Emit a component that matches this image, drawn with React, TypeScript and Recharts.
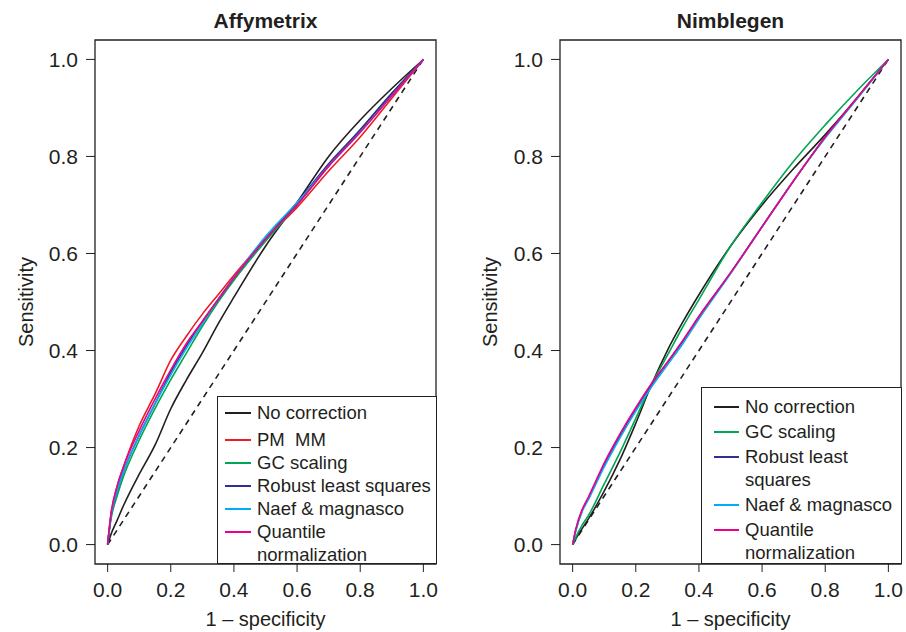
import React from 'react';
import { LineChart, Line, XAxis, YAxis, ReferenceArea, Label } from 'recharts';

// 1 - specificity grid shared by all curves
const fpr = [0, 0.01, 0.03, 0.05, 0.1, 0.15, 0.2, 0.25, 0.3, 0.35, 0.4, 0.5, 0.6, 0.7, 0.8, 0.9, 1];
const axisTicks = [0, 0.2, 0.4, 0.6, 0.8, 1];

// Affymetrix sensitivities
const affyNoCorrection = [0, 0.02, 0.05, 0.08, 0.145, 0.205, 0.28, 0.34, 0.395, 0.455, 0.51, 0.615, 0.705, 0.8, 0.875, 0.94, 1];
const affyPmMm = [0, 0.06, 0.12, 0.16, 0.245, 0.31, 0.38, 0.43, 0.475, 0.515, 0.555, 0.63, 0.695, 0.77, 0.84, 0.92, 1];
const affyGc = [0, 0.05, 0.1, 0.14, 0.215, 0.28, 0.34, 0.395, 0.45, 0.5, 0.545, 0.625, 0.7, 0.78, 0.855, 0.93, 1];
const affyRls = [0, 0.055, 0.11, 0.15, 0.225, 0.29, 0.355, 0.41, 0.46, 0.505, 0.55, 0.63, 0.705, 0.785, 0.855, 0.93, 1];
const affyNaef = [0, 0.055, 0.11, 0.15, 0.225, 0.29, 0.35, 0.405, 0.455, 0.505, 0.55, 0.635, 0.705, 0.78, 0.85, 0.925, 1];
const affyQuantile = [0, 0.06, 0.12, 0.16, 0.235, 0.3, 0.36, 0.415, 0.46, 0.505, 0.55, 0.63, 0.7, 0.78, 0.85, 0.925, 1];

// Nimblegen sensitivities
const nimbNoCorrection = [0, 0.012, 0.033, 0.053, 0.11, 0.175, 0.25, 0.33, 0.4, 0.46, 0.515, 0.615, 0.7, 0.775, 0.845, 0.92, 1];
const nimbGc = [0, 0.015, 0.04, 0.06, 0.125, 0.19, 0.26, 0.33, 0.39, 0.45, 0.505, 0.615, 0.705, 0.79, 0.865, 0.935, 1];
const nimbRls = [0, 0.03, 0.07, 0.095, 0.165, 0.225, 0.28, 0.33, 0.375, 0.42, 0.47, 0.56, 0.655, 0.75, 0.84, 0.92, 1];
const nimbNaef = [0, 0.028, 0.068, 0.093, 0.16, 0.22, 0.275, 0.325, 0.37, 0.415, 0.465, 0.558, 0.655, 0.75, 0.838, 0.918, 1];
const nimbQuantile = [0, 0.032, 0.072, 0.098, 0.168, 0.228, 0.282, 0.332, 0.376, 0.422, 0.47, 0.56, 0.655, 0.75, 0.84, 0.92, 1];

const diagonal = [{ x: 0, y: 0 }, { x: 1, y: 1 }];

const INK = '#231f20';
const FONT = '"Liberation Sans", Arial, Helvetica, sans-serif';

interface Series {
  key: string;
  name: string;
  color: string;
  values: number[];
}

const affySeries: Series[] = [
  { key: 'none', name: 'No correction', color: INK, values: affyNoCorrection },
  { key: 'pmmm', name: 'PM  MM', color: '#ed1c24', values: affyPmMm },
  { key: 'gc', name: 'GC scaling', color: '#00a651', values: affyGc },
  { key: 'rls', name: 'Robust least squares', color: '#2e3192', values: affyRls },
  { key: 'naef', name: 'Naef & magnasco', color: '#00aeef', values: affyNaef },
  { key: 'quant', name: 'Quantile normalization', color: '#ec008c', values: affyQuantile },
];

const nimbSeries: Series[] = [
  { key: 'none', name: 'No correction', color: INK, values: nimbNoCorrection },
  { key: 'gc', name: 'GC scaling', color: '#00a651', values: nimbGc },
  { key: 'rls', name: 'Robust least squares', color: '#2e3192', values: nimbRls },
  { key: 'naef', name: 'Naef & magnasco', color: '#00aeef', values: nimbNaef },
  { key: 'quant', name: 'Quantile normalization', color: '#ec008c', values: nimbQuantile },
];

const buildRows = (series: Series[]) =>
  fpr.map((x, i) => {
    const row: any = { x };
    series.forEach((s) => (row[s.key] = s.values[i]));
    return row;
  });

interface LegendBox {
  left: number;
  top: number;
  width: number;
  height: number;
  padTop: number;
  lineLeft: number;
  textLeft: number;
  gap: number;
  extra?: Record<string, number>;
}

interface PanelProps {
  title: string;
  series: Series[];
  left: number;
  yAxisWidth: number;
  rightMargin: number;
  ylabelOffset: number;
  legend: LegendBox;
}

const Panel: React.FC<PanelProps> = ({ title, series, left, yAxisWidth, rightMargin, ylabelOffset, legend }) => {
  const rows = buildRows(series);
  const width = 453;
  const height = 632;
  const plotW = width - yAxisWidth - rightMargin;
  return (
    <div style={{ position: 'absolute', left, top: 0, width, height }}>
      <LineChart width={width} height={height} data={rows} margin={{ top: 40, right: rightMargin, bottom: 0, left: 0 }}>
        <XAxis
          type="number"
          dataKey="x"
          domain={[-0.04, 1.04]}
          ticks={axisTicks}
          interval={0}
          tickFormatter={(v: number) => v.toFixed(1)}
          axisLine={false}
          tickLine={{ stroke: INK }}
          tickSize={8}
          tickMargin={10}
          height={68}
          tick={{ fontSize: 21, fill: INK, fontFamily: FONT }}
        >
          <Label value="1 – specificity" position="insideBottom" offset={6} fontSize={20} fill={INK} fontFamily={FONT} />
        </XAxis>
        <YAxis
          type="number"
          domain={[-0.04, 1.04]}
          ticks={axisTicks}
          interval={0}
          tickFormatter={(v: number) => v.toFixed(1)}
          axisLine={false}
          tickLine={{ stroke: INK }}
          tickSize={9}
          tickMargin={8}
          width={yAxisWidth}
          tick={{ fontSize: 21, fill: INK, fontFamily: FONT }}
        >
          <Label
            value="Sensitivity"
            angle={-90}
            position="insideLeft"
            offset={ylabelOffset}
            fontSize={20}
            fill={INK}
            fontFamily={FONT}
            style={{ textAnchor: 'middle' }}
          />
        </YAxis>
        <ReferenceArea x1={-0.04} x2={1.04} y1={-0.04} y2={1.04} fill="none" stroke={INK} strokeWidth={1.3} />
        <Line
          data={diagonal}
          dataKey="y"
          stroke={INK}
          strokeWidth={1.6}
          strokeDasharray="6 5"
          dot={false}
          isAnimationActive={false}
        />
        {series.map((s) => (
          <Line
            key={s.key}
            type="monotone"
            dataKey={s.key}
            stroke={s.color}
            strokeWidth={1.6}
            dot={false}
            isAnimationActive={false}
          />
        ))}
      </LineChart>
      <div
        style={{
          position: 'absolute',
          left: yAxisWidth,
          width: plotW,
          top: 10,
          textAlign: 'center',
          fontFamily: FONT,
          fontWeight: 'bold',
          fontSize: 21,
          lineHeight: '21px',
          color: INK,
        }}
      >
        {title}
      </div>
      <div
        style={{
          position: 'absolute',
          left: legend.left - left,
          top: legend.top,
          width: legend.width,
          height: legend.height,
          border: `1px solid ${INK}`,
          boxSizing: 'border-box',
          background: '#fff',
          paddingTop: legend.padTop,
          fontFamily: FONT,
          fontSize: 18.5,
          color: INK,
        }}
      >
        {series.map((s, i) => (
          <div
            key={s.key}
            style={{
              display: 'flex',
              alignItems: 'flex-start',
              marginTop: i === 0 ? 0 : legend.gap + ((legend.extra && legend.extra[s.key]) || 0),
            }}
          >
            <div
              style={{
                marginLeft: legend.lineLeft,
                marginTop: 11,
                width: legend.textLeft - legend.lineLeft - 6,
                height: 2,
                flexShrink: 0,
                background: s.color,
              }}
            />
            <div
              style={{
                marginLeft: 6,
                width: legend.width - legend.textLeft - 3,
                lineHeight: '23px',
                whiteSpace: 'pre-wrap',
              }}
            >
              {s.name}
            </div>
          </div>
        ))}
      </div>
    </div>
  );
};

export default function App() {
  return (
    <div style={{ position: 'absolute', left: 0, top: 0, width: 906, height: 632, background: '#fff' }}>
      <Panel
        title="Affymetrix"
        series={affySeries}
        left={0}
        yAxisWidth={95}
        rightMargin={17}
        ylabelOffset={26}
        legend={{ left: 217, top: 396, width: 220, height: 168, padTop: 4, lineLeft: 7, textLeft: 39, gap: 0, extra: { pmmm: 4 } }}
      />
      <Panel
        title="Nimblegen"
        series={nimbSeries}
        left={453}
        yAxisWidth={107}
        rightMargin={5}
        ylabelOffset={37}
        legend={{ left: 701, top: 387, width: 201, height: 177, padTop: 7, lineLeft: 12, textLeft: 43, gap: 2 }}
      />
    </div>
  );
}
